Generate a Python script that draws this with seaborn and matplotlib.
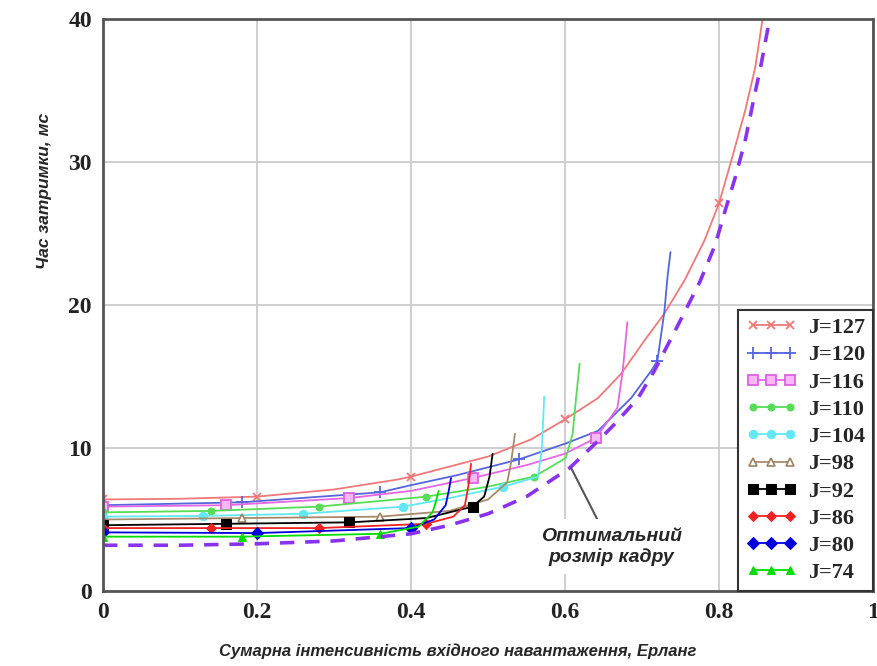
import matplotlib
matplotlib.use('Agg')
import matplotlib.pyplot as plt
import pandas as pd
import seaborn as sns

# -------------------------------
# DATA
# -------------------------------
x_127 = [0, 0.1, 0.2, 0.3, 0.383, 0.4, 0.5, 0.556, 0.6, 0.643, 0.673, 0.703, 0.729, 0.755, 0.781, 0.8, 0.816, 0.834, 0.847, 0.858]
y_127 = [6.4, 6.45, 6.6, 7.1, 7.8, 8.0, 9.4, 10.6, 12.0, 13.5, 15.2, 17.5, 19.4, 21.7, 24.5, 27.1, 30.1, 33.6, 36.6, 40.5]
m_127 = [0, 0.2, 0.4, 0.6, 0.8]

x_120 = [0, 0.18, 0.36, 0.4, 0.46, 0.54, 0.6, 0.643, 0.686, 0.712, 0.72, 0.725, 0.729, 0.733, 0.737]
y_120 = [6.0, 6.2, 6.9, 7.4, 8.1, 9.2, 10.3, 11.2, 13.5, 15.4, 16.1, 18.0, 19.5, 21.9, 23.7]
m_120 = [0, 0.18, 0.36, 0.54, 0.72]

x_116 = [0, 0.16, 0.32, 0.4, 0.48, 0.55, 0.6, 0.64, 0.668, 0.675, 0.681]
y_116 = [5.9, 6.0, 6.5, 7.0, 7.9, 8.8, 9.6, 10.7, 12.8, 15.4, 18.8]
m_116 = [0, 0.16, 0.32, 0.48, 0.64]

x_110 = [0, 0.14, 0.28, 0.42, 0.5, 0.56, 0.601, 0.61, 0.614, 0.619]
y_110 = [5.5, 5.6, 5.9, 6.6, 7.3, 8.0, 9.3, 11.0, 13.3, 15.9]
m_110 = [0, 0.14, 0.28, 0.42, 0.56]

x_104 = [0, 0.13, 0.26, 0.39, 0.45, 0.52, 0.565, 0.57, 0.573]
y_104 = [5.2, 5.25, 5.4, 5.9, 6.5, 7.3, 8.0, 10.0, 13.6]
m_104 = [0, 0.13, 0.26, 0.39, 0.52]

x_98 = [0, 0.18, 0.36, 0.45, 0.5, 0.525, 0.53, 0.535]
y_98 = [5.0, 5.1, 5.2, 5.6, 6.4, 7.6, 9.0, 11.0]
m_98 = [0, 0.18, 0.36]

x_92 = [0, 0.16, 0.32, 0.42, 0.48, 0.495, 0.502, 0.506]
y_92 = [4.6, 4.7, 4.8, 5.1, 5.9, 6.6, 8.0, 9.6]
m_92 = [0, 0.16, 0.32, 0.48]

x_86 = [0, 0.14, 0.28, 0.42, 0.455, 0.47, 0.475, 0.478]
y_86 = [4.4, 4.4, 4.4, 4.7, 5.2, 6.0, 7.5, 8.9]
m_86 = [0, 0.14, 0.28, 0.42]

x_80 = [0, 0.2, 0.4, 0.43, 0.445, 0.449, 0.452]
y_80 = [4.1, 4.05, 4.4, 5.0, 6.0, 7.0, 7.9]
m_80 = [0, 0.2, 0.4]

x_74 = [0, 0.18, 0.36, 0.41, 0.428, 0.432, 0.436]
y_74 = [3.8, 3.8, 4.0, 4.5, 5.5, 6.2, 7.0]
m_74 = [0, 0.18, 0.36]

# optimal frame size (dashed)
x_opt = [0, 0.1, 0.2, 0.3, 0.4, 0.45, 0.5, 0.55, 0.606, 0.643, 0.665, 0.695, 0.716, 0.743, 0.775,
         0.795, 0.808, 0.821, 0.834, 0.844, 0.855, 0.864, 0.869]
y_opt = [3.2, 3.2, 3.3, 3.5, 4.0, 4.6, 5.4, 6.6, 8.6, 10.5, 11.7, 13.5, 15.4, 18.2, 21.6,
         24.2, 26.6, 28.9, 31.5, 34.1, 36.9, 39.5, 41.0]

x_ticks = [0, 0.2, 0.4, 0.6, 0.8, 1.0]
x_tick_labels = ['0', '0.2', '0.4', '0.6', '0.8', '1']
y_ticks = [0, 10, 20, 30, 40]

# -------------------------------
# STYLE
# -------------------------------
sns.set_style('whitegrid')
plt.rcParams['font.family'] = ['Liberation Serif', 'DejaVu Serif']

series = [
    ('J=127', x_127, y_127, m_127, dict(color='#f07878', marker='x', ms=6, mec='#f07878', mew=1.3)),
    ('J=120', x_120, y_120, m_120, dict(color='#5566dd', marker='+', ms=8, mec='#5566dd', mew=1.3)),
    ('J=116', x_116, y_116, m_116, dict(color='#e466e4', marker='s', ms=7, mfc='#f6b8f6', mec='#e060e0', mew=1.3)),
    ('J=110', x_110, y_110, m_110, dict(color='#55dd55', marker='o', ms=5, mec='#55dd55')),
    ('J=104', x_104, y_104, m_104, dict(color='#60e8f4', marker='o', ms=6, mec='#60e8f4')),
    ('J=98', x_98, y_98, m_98, dict(color='#a88a6a', marker='^', ms=6, mfc='white', mec='#a08060', mew=1.2)),
    ('J=92', x_92, y_92, m_92, dict(color='#000000', marker='s', ms=7, mec='#000000')),
    ('J=86', x_86, y_86, m_86, dict(color='#ee2222', marker='D', ms=5, mec='#ee2222')),
    ('J=80', x_80, y_80, m_80, dict(color='#0000dd', marker='D', ms=6, mec='#0000dd')),
    ('J=74', x_74, y_74, m_74, dict(color='#00dd00', marker='^', ms=6, mec='#00dd00')),
]

fig = plt.figure(figsize=(8.78, 6.66), dpi=100)
ax = fig.add_axes([103 / 878, 1 - 591 / 666, 770 / 878, 572 / 666])

for label, xs, ys, marks, style in series:
    df = pd.DataFrame({'load': xs, 'delay': ys})
    idx = [xs.index(m) for m in marks]
    sns.lineplot(data=df, x='load', y='delay', ax=ax, estimator=None, sort=False,
                 label=label, lw=1.3, markevery=idx, **style)

df_opt = pd.DataFrame({'load': x_opt, 'delay': y_opt})
sns.lineplot(data=df_opt, x='load', y='delay', ax=ax, estimator=None, sort=False,
             color='#8a33ee', lw=2.6, linestyle=(0, (4, 3)))

ax.set_xlim(0, 1)
ax.set_ylim(0, 40)
ax.set_xticks(x_ticks)
ax.set_xticklabels(x_tick_labels)
ax.set_yticks(y_ticks)
ax.tick_params(length=0, labelsize=17, labelcolor='#222222', pad=8)
for t in ax.get_xticklabels() + ax.get_yticklabels():
    t.set_fontweight('bold')
ax.grid(color='#cccccc', lw=1.3)
for s in ax.spines.values():
    s.set_color('#555555')
    s.set_linewidth(2)

sans = ['Liberation Sans', 'DejaVu Sans']
ax.set_xlabel('Сумарна інтенсивність вхідного навантаження, Ерланг',
              fontsize=12, fontweight='bold', fontstyle='italic', family=sans)
ax.xaxis.set_label_coords(0.461, -0.092)
ax.set_ylabel('Час затримки, мс', fontsize=12.5, fontweight='bold', fontstyle='italic', family=sans)
ax.yaxis.set_label_coords(-0.066, 0.70)

ax.annotate('Оптимальний\nрозмір кадру', xy=(0.608, 8.6), xytext=(0.66, 3.1),
            ha='center', va='center', fontsize=14, fontweight='bold', fontstyle='italic',
            family=sans, linespacing=1.25,
            bbox=dict(facecolor='white', edgecolor='none', pad=6),
            arrowprops=dict(arrowstyle='-', color='#555555', lw=1.5, shrinkA=0, shrinkB=0),
            zorder=5)

leg = ax.legend(loc='lower right', borderaxespad=0, numpoints=3, handlelength=2.3,
                fontsize=16, labelspacing=0.3, handletextpad=0.5, borderpad=0.35,
                fancybox=False, framealpha=1, edgecolor='#333333')
leg.get_frame().set_linewidth(1.5)
leg.set_zorder(10)
for t in leg.get_texts():
    t.set_fontweight('bold')

plt.savefig('out.png', dpi=100)
